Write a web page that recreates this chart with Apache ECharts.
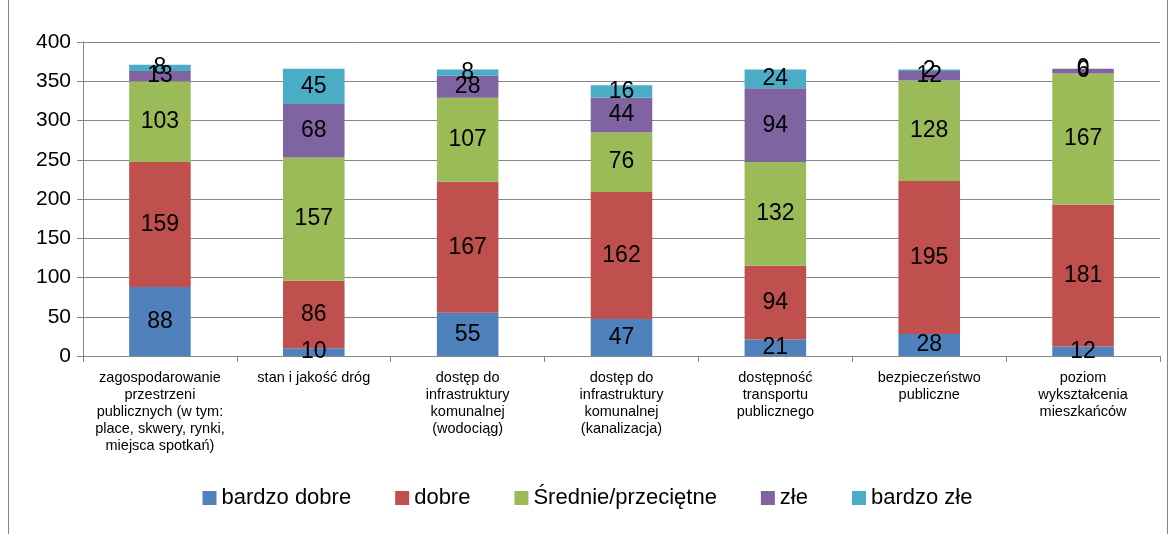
<!DOCTYPE html>
<html>
<head>
<meta charset="utf-8">
<script src="https://cdn.jsdelivr.net/npm/echarts@6/dist/echarts.min.js"></script>
<style>
  html, body { margin: 0; padding: 0; background: #fff; }
  #chart { width: 1175px; height: 534px; }
</style>
</head>
<body>
<div id="chart"></div>
<script>
// kategorie
const categories = [
  'zagospodarowanie\nprzestrzeni\npublicznych (w tym:\nplace, skwery, rynki,\nmiejsca spotkań)',
  'stan i jakość dróg',
  'dostęp do\ninfrastruktury\nkomunalnej\n(wodociąg)',
  'dostęp do\ninfrastruktury\nkomunalnej\n(kanalizacja)',
  'dostępność\ntransportu\npublicznego',
  'bezpieczeństwo\npubliczne',
  'poziom\nwykształcenia\nmieszkańców'
]

// wartości serii
const bardzoDobre = [88, 10, 55, 47, 21, 28, 12]
const dobre = [159, 86, 167, 162, 94, 195, 181]
const srednie = [103, 157, 107, 76, 132, 128, 167]
const zle = [13, 68, 28, 44, 94, 12, 6]
const bardzoZle = [8, 45, 8, 16, 24, 2, 0]

const seriesNames = ['bardzo dobre', 'dobre', 'Średnie/przeciętne', 'złe', 'bardzo złe']
const seriesData = [bardzoDobre, dobre, srednie, zle, bardzoZle]
const colors = ['#4F81BD', '#C0504D', '#9BBB59', '#8064A2', '#4BACC6']

const chart = echarts.init(document.getElementById('chart'))

const option = {
  animation: false,
  color: colors,
  graphic: [
    {
      type: 'rect',
      shape: { x: 8.5, y: -2, width: 1159, height: 540 },
      style: { fill: 'none', stroke: '#868686', lineWidth: 1 }
    }
  ],
  legend: {
    bottom: 20,
    left: 'center',
    itemWidth: 14,
    itemHeight: 14,
    itemGap: 44,
    icon: 'rect',
    textStyle: {
      fontFamily: 'Liberation Sans',
      fontSize: 22,
      color: '#000'
    },
    data: seriesNames
  },
  grid: {
    left: 83,
    right: 15,
    top: 42,
    bottom: 178
  },
  xAxis: {
    type: 'category',
    data: categories,
    axisLine: { lineStyle: { color: '#868686' } },
    axisTick: { show: true, alignWithLabel: false, length: 6, lineStyle: { color: '#868686' } },
    axisLabel: {
      interval: 0,
      margin: 13,
      fontFamily: 'Liberation Sans, Arial',
      fontSize: 14.5,
      lineHeight: 17,
      color: '#000',
      align: 'center'
    }
  },
  yAxis: {
    type: 'value',
    min: 0,
    max: 400,
    interval: 50,
    axisLine: { show: true, lineStyle: { color: '#868686' } },
    axisTick: { show: true, inside: false, length: 6, lineStyle: { color: '#868686' } },
    splitLine: { lineStyle: { color: '#868686' } },
    axisLabel: {
      margin: 12,
      fontFamily: 'Liberation Sans',
      fontSize: 21,
      color: '#000'
    }
  },
  series: seriesNames.map((name, i) => ({
    name: name,
    type: 'bar',
    stack: 'total',
    barWidth: '40%',
    data: seriesData[i],
    itemStyle: { color: colors[i] },
    label: {
      show: true,
      position: 'inside',
      color: '#000',
      fontFamily: 'Liberation Sans',
      fontSize: 23
    }
  }))
}

chart.setOption(option)
</script>
</body>
</html>
